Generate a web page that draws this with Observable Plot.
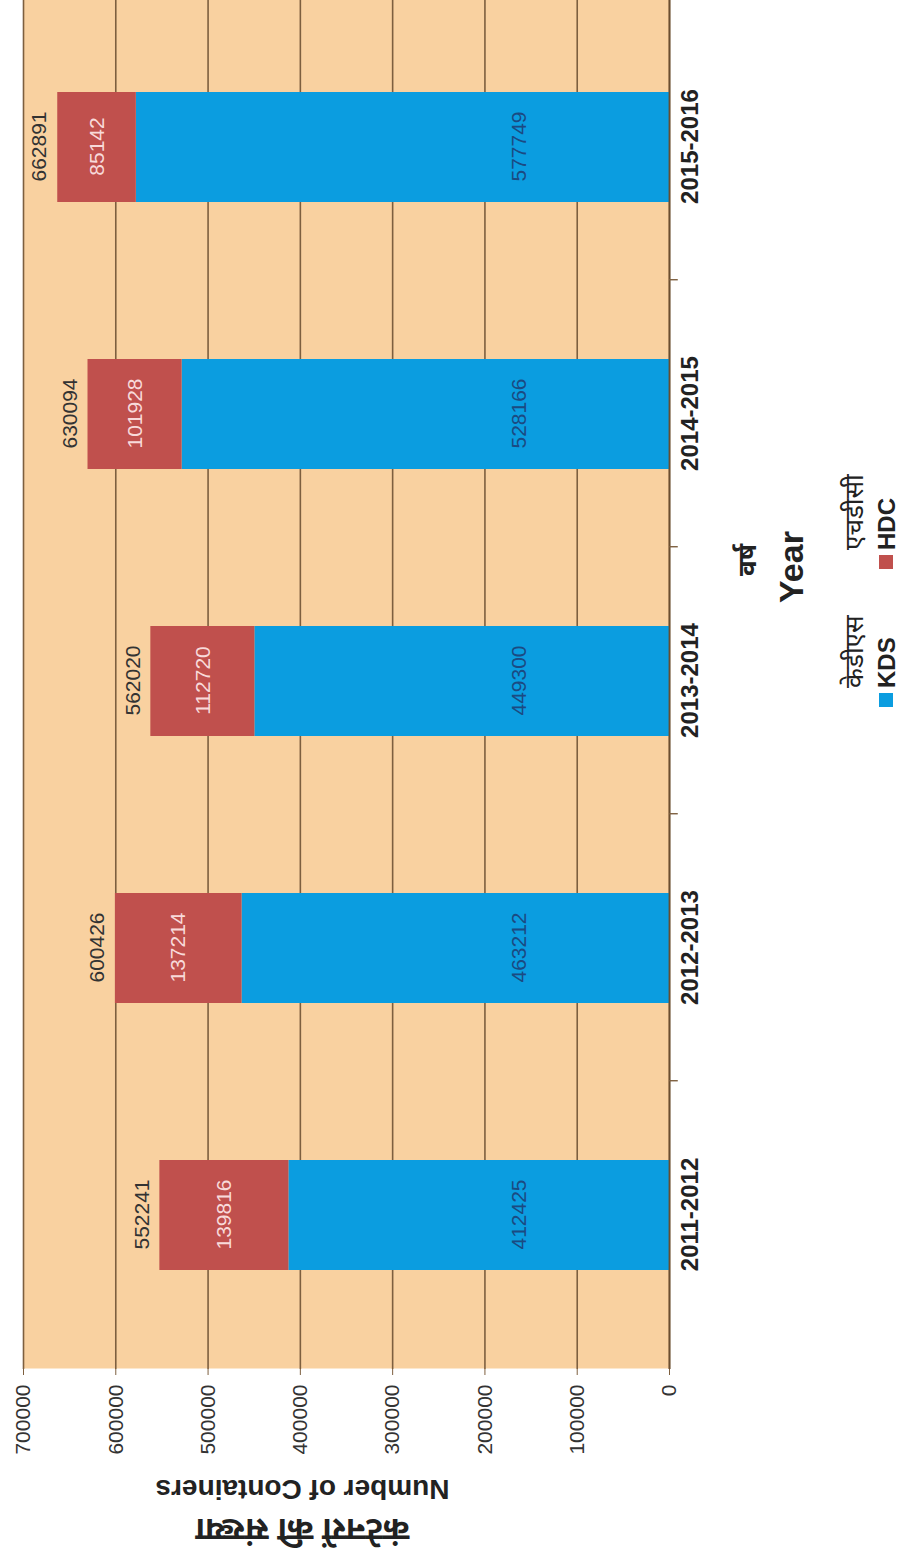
<!DOCTYPE html>
<html>
<head>
<meta charset="utf-8">
<script src="https://cdn.jsdelivr.net/npm/d3@7"></script>
<script src="https://cdn.jsdelivr.net/npm/@observablehq/plot@0.6"></script>
<style>
  html, body { margin: 0; padding: 0; background: #fff; overflow: hidden; }
  #page { position: relative; width: 899px; height: 1556px; overflow: hidden; }
  /* the chart is laid out landscape, then turned a quarter turn counter-clockwise */
  #chart {
    position: absolute; left: 0; top: 0; width: 1556px; height: 899px;
    transform-origin: 0 0; transform: translate(0, 1556px) rotate(-90deg);
    font-family: "Liberation Sans", Arial, "Noto Sans", sans-serif; color: #222;
  }
  #chart svg { position: absolute; left: 0; top: 0; }
  .cap { position: absolute; white-space: nowrap; line-height: 1; }
  .swatch { position: absolute; width: 14px; height: 14px; }
</style>
</head>
<body>
<div id="page"><div id="chart"></div></div>
<script>
// Container traffic by year
const years = ["2011-2012", "2012-2013", "2013-2014", "2014-2015", "2015-2016"];
const kds = [412425, 463212, 449300, 528166, 577749];
const hdc = [139816, 137214, 112720, 101928, 85142];
const totals = [552241, 600426, 562020, 630094, 662891];
const valueTicks = [0, 100000, 200000, 300000, 400000, 500000, 600000, 700000];

const seriesKeys = ["KDS", "HDC"];
const seriesHindi = ["केडीएस", "एचडीसी"];
const seriesColors = ["#0b9de0", "#c0504d"];

const yTitleEn = "Number of Containers";
const yTitleHi = "कंटेनरों की संख्या";
const xTitleEn = "Year";
const xTitleHi = "वर्ष";

const bgColor = "#f9d1a0";
const gridColor = "#7d5f3f";

// long table for the stacked bars
const rows = years.flatMap((year, i) => [
  {year, series: "KDS", value: kds[i]},
  {year, series: "HDC", value: hdc[i]}
]);
const idx = years.map((_, i) => i);

// band layout
const W = 1556, H = 730, mL = 187, mR = 0, mT = 23, mB = 61;
const pIn = 0.589, pOut = 0.353, align = 0.52;
const step = (W - mL - mR) / (years.length - pIn + 2 * pOut);

const chart = Plot.plot({
  width: W, height: H,
  marginLeft: mL, marginRight: mR, marginTop: mT, marginBottom: mB,
  style: {fontFamily: "'Liberation Sans', Arial, 'Noto Sans', sans-serif", color: "#222", background: "transparent", overflow: "visible"},
  x: {type: "band", domain: years, paddingInner: pIn, paddingOuter: pOut, align, label: null},
  y: {domain: [0, 700000], label: null},
  color: {domain: seriesKeys, range: seriesColors},
  marks: [
    Plot.frame({fill: bgColor, stroke: null}),
    Plot.ruleY(valueTicks, {stroke: gridColor, strokeWidth: 1.6}),
    Plot.barY(rows, {x: "year", y: "value", fill: "series"}),
    Plot.ruleY([0], {stroke: "#6a4e30", strokeWidth: 1.8}),
    // small separators between year groups
    Plot.ruleX(years.slice(0, -1), {x: d => d, y1: 0, y2: -9500, dx: step / 2, stroke: gridColor, strokeWidth: 1.4}),
    Plot.axisY({ticks: valueTicks, tickFormat: d3.format("d"), tickSize: 6, tickPadding: 10, fontSize: 21, stroke: gridColor, fill: "#333", label: null}),
    Plot.axisX({tickSize: 0, tickPadding: 11, fontSize: 24, fontWeight: "bold", fill: "#222", label: null}),
    // segment and total labels
    Plot.text(idx, {x: i => years[i], frameAnchor: "bottom", dy: -144, text: i => String(kds[i]), fill: "#1b4a82", fontSize: 21}),
    Plot.text(idx, {x: i => years[i], y: i => kds[i] + hdc[i] / 2, text: i => String(hdc[i]), fill: "#f8dada", fontSize: 21}),
    Plot.text(idx, {x: i => years[i], y: i => totals[i], dy: -18, text: i => String(totals[i]), fill: "#333", fontSize: 21}),
    // value axis title, two lines
    Plot.text([yTitleEn], {frameAnchor: "left", textAnchor: "middle", text: d => d, rotate: -90, dx: -120, dy: -44, fontSize: 28, fontWeight: "bold", fill: "#222"}),
    Plot.text([yTitleHi], {frameAnchor: "left", textAnchor: "middle", text: d => d, rotate: -90, dx: -161, dy: -44, fontSize: 32, fontWeight: "bold", fill: "#222", ariaLabel: "y-title-hi"})
  ]
});

const root = document.getElementById("chart");
root.appendChild(chart);
d3.select(chart).selectAll('g[aria-label="y-title-hi"] text').style("text-decoration", "underline");

// category title and legend below the plot
function cap(text, left, top, size, weight, center) {
  const el = document.createElement("div");
  el.className = "cap";
  el.textContent = text;
  el.style.left = left + "px";
  el.style.top = top + "px";
  el.style.fontSize = size + "px";
  el.style.fontWeight = weight;
  if (center) el.style.transform = "translateX(-50%)";
  root.appendChild(el);
  return el;
}
cap(xTitleHi, 996, 734, 26, "bold", true);
cap(xTitleEn, 989, 774, 34, "bold", true);

const legendLeft = [849, 987];
seriesKeys.forEach((key, i) => {
  const sw = document.createElement("div");
  sw.className = "swatch";
  sw.style.left = legendLeft[i] + "px";
  sw.style.top = "879px";
  sw.style.background = seriesColors[i];
  root.appendChild(sw);
  cap(key, legendLeft[i] + 19, 875, 24, "bold", false);
  cap(seriesHindi[i], legendLeft[i] + 19, 841, 26, "normal", false);
});
</script>
</body>
</html>
